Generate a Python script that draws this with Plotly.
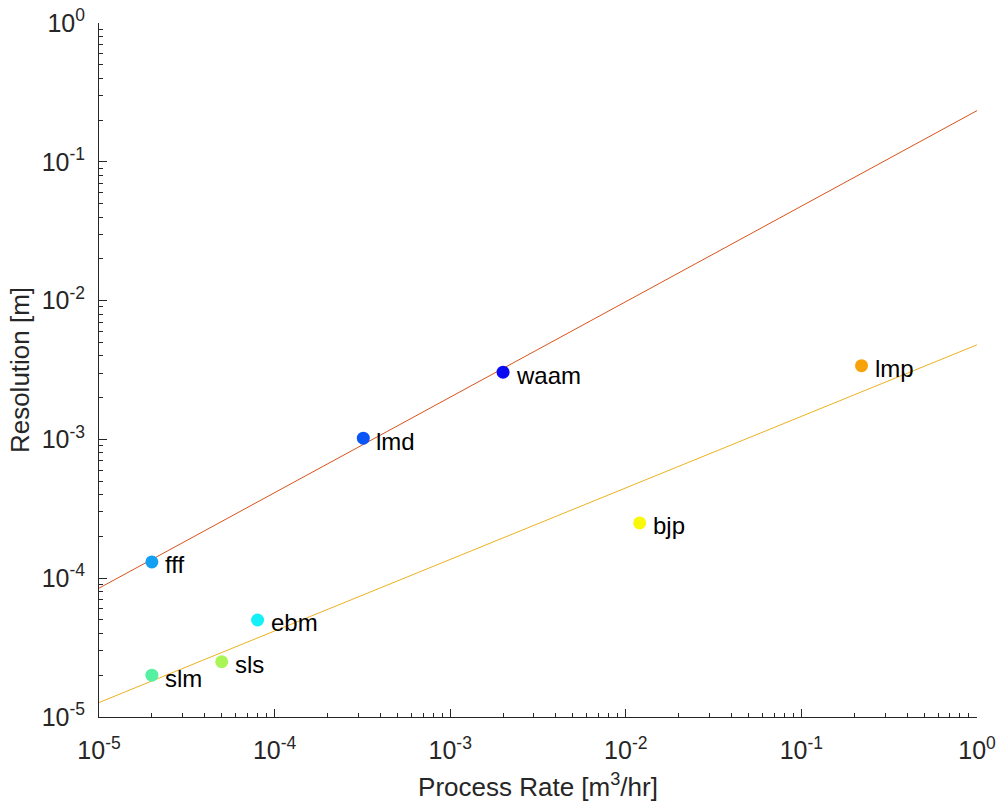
import numpy as np
import plotly.graph_objects as go

# Additive manufacturing processes: build rate vs. achievable resolution
processes = ["waam", "lmd", "fff", "ebm", "slm", "sls", "bjp", "lmp"]
process_rate = [2.0e-3, 3.2e-4, 2.0e-5, 8.0e-5, 2.0e-5, 5.0e-5, 1.2e-2, 0.22]   # m^3/hr
resolution = [3.05e-3, 1.02e-3, 1.31e-4, 5.0e-5, 2.0e-5, 2.5e-5, 2.5e-4, 3.4e-3]  # m
marker_colors = ["#0b0bf2", "#0a55f5", "#14a0f2", "#14f0f5",
                 "#55f0a0", "#a8f555", "#f8f80a", "#f8a20a"]

# Two families fitted separately (power law, straight line in log-log)
group_upper = ["fff", "lmd", "waam"]
group_lower = ["slm", "sls", "ebm", "bjp", "lmp"]
fit_colors = ["#D95319", "#EDB120"]

x_limits = [1e-5, 1.0]
y_limits = [1e-5, 1.0]
decades = [-5, -4, -3, -2, -1, 0]

FONT = "Liberation Sans, Arial, Helvetica, sans-serif"
AXIS_COLOR = "#262626"


def power_fit(names):
    idx = [processes.index(n) for n in names]
    lx = np.log10([process_rate[i] for i in idx])
    ly = np.log10([resolution[i] for i in idx])
    slope, icpt = np.polyfit(lx, ly, 1)
    xs = np.array(x_limits)
    return xs, 10 ** (icpt + slope * np.log10(xs))


fig = go.Figure()

for names, col in zip([group_upper, group_lower], fit_colors):
    fx, fy = power_fit(names)
    fig.add_trace(go.Scatter(x=fx, y=fy, mode="lines",
                             line=dict(color=col, width=1),
                             hoverinfo="skip", showlegend=False))

fig.add_trace(go.Scatter(
    x=process_rate, y=resolution, mode="markers",
    marker=dict(size=13, color=marker_colors, line=dict(width=0)),
    hovertext=processes, showlegend=False,
))

# Process names written just to the right of each marker
for name, xv, yv in zip(processes, process_rate, resolution):
    fig.add_annotation(
        x=np.log10(xv), y=np.log10(yv), text=name, showarrow=False,
        xanchor="left", yanchor="middle", xshift=11, yshift=-3,
        font=dict(family=FONT, size=24, color="#000000"),
    )

tick_text = [f"10<sup>{d}</sup>" for d in decades]
tick_vals = [10.0 ** d for d in decades]
minor_vals = [m * 10.0 ** d for d in decades[:-1] for m in range(2, 10)]

axis_common = dict(
    type="log",
    tickmode="array",
    tickvals=tick_vals,
    ticktext=tick_text,
    ticks="inside",
    ticklen=8,
    tickwidth=1,
    tickcolor=AXIS_COLOR,
    showline=True,
    linecolor=AXIS_COLOR,
    linewidth=1,
    mirror=False,
    showgrid=False,
    zeroline=False,
    automargin=False,
    tickfont=dict(family=FONT, size=25, color=AXIS_COLOR),
    minor=dict(tickmode="array", tickvals=minor_vals, ticks="inside",
               ticklen=4, tickwidth=1, tickcolor=AXIS_COLOR, showgrid=False),
)

fig.update_layout(
    width=1001, height=808,
    margin=dict(l=99, r=24, t=23, b=91),
    paper_bgcolor="white", plot_bgcolor="white",
    font=dict(family=FONT, color=AXIS_COLOR),
    xaxis=dict(axis_common,
               range=[np.log10(x_limits[0]), np.log10(x_limits[1])],
               ticklabelstandoff=11,
               title=dict(text="Process Rate [m<sup>3</sup>/hr]",
                          font=dict(family=FONT, size=26, color=AXIS_COLOR),
                          standoff=14)),
    yaxis=dict(axis_common,
               range=[np.log10(y_limits[0]), np.log10(y_limits[1])],
               ticklabelstandoff=8,
               title=dict(text="Resolution [m]",
                          font=dict(family=FONT, size=26, color=AXIS_COLOR),
                          standoff=4)),
)

fig.write_html("out.html")
